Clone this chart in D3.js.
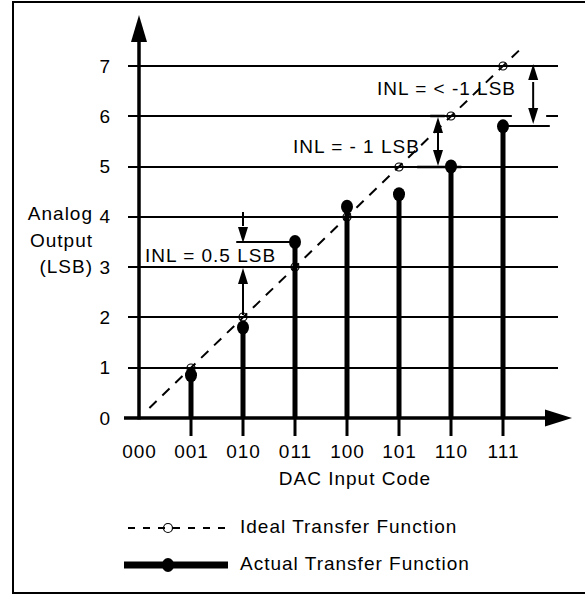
<!DOCTYPE html>
<html lang="en">
<head>
    <meta charset="UTF-8">
    <title>DAC INL</title>
    <script src="https://d3js.org/d3.v7.min.js"></script>
    <style>
        body {margin: 0; background: white;}
        text {font-family: "Liberation Sans", Arial, sans-serif; font-size: 19px; letter-spacing: 1px; fill: black;}
    </style>
</head>
<body>
<script>
    const width = 585;
    const height = 596;

    // data
    const codes = ["000", "001", "010", "011", "100", "101", "110", "111"];
    const yTicks = [0, 1, 2, 3, 4, 5, 6, 7];
    const actualValues = [0.85, 1.8, 3.5, 4.2, 4.45, 5.0, 5.8];   // codes 001..111
    const idealValues = [1, 2, 3, 4, 5, 6, 7];                    // codes 001..111
    const idealExtent = [0.2, 7.35];
    const inlLabels = ["INL = 0.5 LSB", "INL = - 1 LSB", "INL = < -1 LSB"];
    const inlFrom = [3, 5, 5.8];
    const inlTo = [3.5, 6, 7];
    const yTitle = ["Analog", "Output", "(LSB)"];
    const xTitle = "DAC Input Code";
    const legendLabels = ["Ideal Transfer Function", "Actual Transfer Function"];

    const x = d3.scaleLinear().domain([0, 7]).range([139, 503]);
    const y = d3.scaleLinear().domain([0, 7]).range([418, 66]);
    const yr = d => Math.round(y(d)); // crisp horizontal lines

    const svg = d3.select("body").append("svg")
            .attr("width", width).attr("height", height);

    // frame
    svg.append("rect")
            .attr("x", 13).attr("y", 2)
            .attr("width", 600).attr("height", 591)
            .attr("fill", "none").attr("stroke", "black").attr("stroke-width", 2);

    // arrow head: tip at (tx,ty), pointing along (dx,dy)
    function head(g, tx, ty, dx, dy, len, hw) {
        const bx = tx - dx * len, by = ty - dy * len;
        const pts = [[tx, ty], [bx - dy * hw, by + dx * hw], [bx + dy * hw, by - dx * hw]];
        g.append("polygon").attr("points", pts.map(p => p.join(",")).join(" ")).attr("fill", "black");
    }
    function line(g, x1, y1, x2, y2, w) {
        return g.append("line").attr("x1", x1).attr("y1", y1).attr("x2", x2).attr("y2", y2)
                .attr("stroke", "black").attr("stroke-width", w);
    }

    // gridlines
    svg.append("g").selectAll("line.grid")
            .data(yTicks.filter(d => d > 0)).enter()
            .append("line").attr("class", "grid")
            .attr("x1", 128).attr("x2", 558)
            .attr("y1", yr).attr("y2", yr)
            .attr("stroke", "black").attr("stroke-width", 2);

    // gap in the 6 line around the < -1 LSB arrow
    line(svg, x(7.17), yr(6), x(7.83), yr(6), 4).attr("stroke", "white");

    // y tick labels
    const yAxis = svg.append("g").attr("transform", "translate(111,0)")
            .call(d3.axisLeft(y).tickValues(yTicks).tickFormat(d3.format("d")).tickSize(0).tickPadding(0));
    yAxis.select(".domain").remove();
    yAxis.selectAll("text").attr("font-family", null).attr("font-size", null);

    // x tick labels
    const xAxis = svg.append("g").attr("transform", "translate(0,458)")
            .call(d3.axisBottom(x).tickValues(d3.range(codes.length)).tickFormat(i => codes[i]).tickSize(0).tickPadding(0));
    xAxis.select(".domain").remove();
    xAxis.selectAll("text").attr("dy", null).attr("font-family", null).attr("font-size", null);

    // axis titles
    svg.append("text").attr("text-anchor", "end")
            .selectAll("tspan").data(yTitle).enter()
            .append("tspan").attr("x", 93).attr("y", (d, i) => 220 + i * 26.5).text(d => d);
    svg.append("text").attr("x", 355).attr("y", 485).attr("text-anchor", "middle").text(xTitle);

    // axes with arrows
    line(svg, 124, yr(0), 545, yr(0), 3.3);
    head(svg, 572, yr(0), 1, 0, 27, 8.5);
    line(svg, x(0), yr(0) + 1.5, x(0), 42, 3.5);
    head(svg, x(0), 15, 0, -1, 27, 8);

    // x ticks under the stems
    svg.append("g").selectAll("line.tick")
            .data(actualValues).enter()
            .append("line").attr("class", "tick")
            .attr("x1", (d, i) => x(i + 1)).attr("x2", (d, i) => x(i + 1))
            .attr("y1", yr(0)).attr("y2", 436)
            .attr("stroke", "black").attr("stroke-width", 3);

    // ideal transfer function
    svg.append("line")
            .attr("x1", x(idealExtent[0])).attr("y1", y(idealExtent[0]))
            .attr("x2", x(idealExtent[1])).attr("y2", y(idealExtent[1]))
            .attr("stroke", "black").attr("stroke-width", 2).attr("stroke-dasharray", "10,8");
    svg.append("g").selectAll("circle.ideal")
            .data(idealValues).enter()
            .append("circle").attr("class", "ideal")
            .attr("cx", (d, i) => x(i + 1)).attr("cy", yr).attr("r", 4)
            .attr("fill", "none").attr("stroke", "black").attr("stroke-width", 1.2);

    // actual transfer function
    svg.append("g").selectAll("line.stem")
            .data(actualValues).enter()
            .append("line").attr("class", "stem")
            .attr("x1", (d, i) => x(i + 1)).attr("x2", (d, i) => x(i + 1))
            .attr("y1", yr(0)).attr("y2", d => y(d))
            .attr("stroke", "black").attr("stroke-width", 5);
    svg.append("g").selectAll("ellipse.dot")
            .data(actualValues).enter()
            .append("ellipse").attr("class", "dot")
            .attr("cx", (d, i) => x(i + 1)).attr("cy", d => y(d))
            .attr("rx", 6).attr("ry", 7).attr("fill", "black");

    // INL annotations
    const ann = svg.append("g");
    // 0.5 LSB: arrows pointing in from outside
    line(ann, x(1.87), yr(inlTo[0]), x(3), yr(inlTo[0]), 2);
    line(ann, x(2), 212, x(2), yr(inlTo[0]) - 16, 2);
    head(ann, x(2), yr(inlTo[0]) + 1, 0, 1, 16, 5);
    line(ann, x(2), 315, x(2), yr(inlFrom[0]) + 16, 2);
    head(ann, x(2), yr(inlFrom[0]) + 1, 0, -1, 16, 5);
    ann.append("text").attr("x", 145).attr("y", 262).text(inlLabels[0]);

    // - 1 LSB: double arrow
    line(ann, x(5.6), yr(inlTo[1]), x(5.88), yr(inlTo[1]), 2.5);
    line(ann, x(5.35), yr(inlFrom[1]), x(6.2), yr(inlFrom[1]), 2.5);
    line(ann, x(5.75), yr(inlTo[1]) + 16, x(5.75), yr(inlFrom[1]) - 16, 2);
    head(ann, x(5.75), yr(inlTo[1]) + 1, 0, -1, 16, 5);
    head(ann, x(5.75), yr(inlFrom[1]) - 1, 0, 1, 16, 5);
    ann.append("text").attr("x", 293).attr("y", 153).text(inlLabels[1]);

    // < -1 LSB: double arrow
    line(ann, x(7), yr(inlFrom[2]), x(7.9), yr(inlFrom[2]), 2);
    line(ann, x(7.58), yr(inlTo[2]) + 16, x(7.58), yr(inlFrom[2]) - 16, 2);
    head(ann, x(7.58), yr(inlTo[2]) - 2, 0, -1, 16, 5);
    head(ann, x(7.58), yr(inlFrom[2]) - 2, 0, 1, 16, 5);
    ann.append("text").attr("x", 377).attr("y", 95).text(inlLabels[2]);

    // legend
    const legend = svg.append("g");
    line(legend, 128, 528, 230, 528, 2).attr("stroke-dasharray", "7,8");
    legend.append("circle").attr("cx", 168).attr("cy", 528).attr("r", 4.5)
            .attr("fill", "none").attr("stroke", "black").attr("stroke-width", 1.2);
    legend.append("text").attr("x", 240).attr("y", 533).text(legendLabels[0]);
    line(legend, 124, 565, 228, 565, 7);
    legend.append("ellipse").attr("cx", 168).attr("cy", 565).attr("rx", 6).attr("ry", 7).attr("fill", "black");
    legend.append("text").attr("x", 240).attr("y", 570).text(legendLabels[1]);
</script>
</body>
</html>
